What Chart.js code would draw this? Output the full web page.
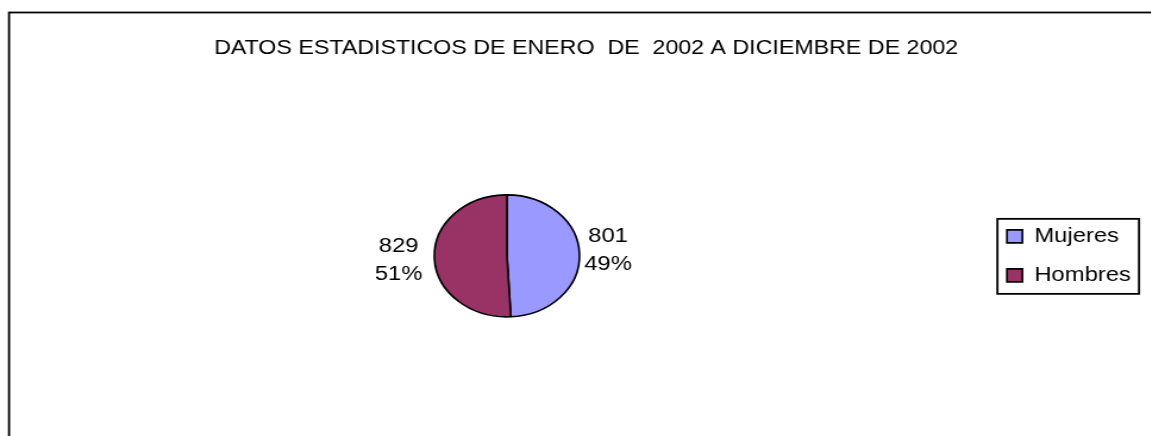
<!DOCTYPE html>
<html>
<head>
<meta charset="utf-8">
<script src="https://cdn.jsdelivr.net/npm/chart.js@4/dist/chart.umd.min.js"></script>
<style>
  html, body { margin: 0; padding: 0; background: #fff; overflow: hidden; width: 1151px; height: 436px; }
  #wrap { width: 979px; height: 451px; transform: scaleX(1.19); transform-origin: 0 0; }
  canvas { display: block; }
</style>
</head>
<body>
<div id="wrap"><canvas id="c" width="979" height="451"></canvas></div>
<script>
// ---- data ----
const categories = ['Mujeres', 'Hombres'];
const values = [801, 829];
const titleText = 'DATOS ESTADISTICOS DE ENERO  DE  2002 A DICIEMBRE DE 2002';

const FONT = '"Liberation Sans", Arial, sans-serif';
Chart.defaults.font.family = FONT;
Chart.defaults.color = '#000';

// outer frame of the chart (left and top visible; right/bottom beyond the crop)
const frame = {
  id: 'frame',
  beforeDraw(chart) {
    const ctx = chart.ctx;
    ctx.save();
    ctx.fillStyle = '#fff';
    ctx.fillRect(0, 0, chart.width, chart.height);
    ctx.strokeStyle = '#000';
    ctx.lineWidth = 1.8;
    ctx.strokeRect(7.6, 12.5, chart.width + 20, chart.height + 20);
    ctx.restore();
  }
};

// border around the legend
const legendFrame = {
  id: 'legendFrame',
  afterDraw(chart) {
    const hb = chart.legend && chart.legend.legendHitBoxes;
    if (!hb || !hb.length) return;
    const ctx = chart.ctx;
    const first = hb[0], last = hb[hb.length - 1];
    const mid = (first.top + first.height / 2 + last.top + last.height / 2) / 2;
    const left = first.left - 8;
    const right = first.left + 111;
    ctx.save();
    ctx.strokeStyle = '#000';
    ctx.lineWidth = 1.8;
    ctx.strokeRect(left, mid - 37, right - left, 75);
    ctx.restore();
  }
};

// value + percent labels outside the slices
const pieLabels = {
  id: 'pieLabels',
  afterDatasetsDraw(chart) {
    const ctx = chart.ctx;
    const meta = chart.getDatasetMeta(0);
    const total = values.reduce((a, b) => a + b, 0);
    ctx.save();
    ctx.font = '20px ' + FONT;
    ctx.fillStyle = '#000';
    ctx.textBaseline = 'middle';
    ctx.textAlign = 'center';
    meta.data.forEach((arc, i) => {
      const p = arc.getProps(['x', 'y', 'startAngle', 'endAngle', 'outerRadius'], true);
      const mid = (p.startAngle + p.endAngle) / 2;
      const l1 = String(values[i]);
      const l2 = Math.round(values[i] / total * 100) + '%';
      const w = Math.max(ctx.measureText(l1).width, ctx.measureText(l2).width);
      const c = Math.cos(mid), s = Math.sin(mid);
      const right = c >= 0;
      const rr = p.outerRadius + (right ? 4 : 10);
      const px = p.x + c * rr + (right ? 1 : -1) * w / 2;
      const py = p.y + s * rr + (right ? -4 : 3);
      ctx.fillText(l1, px, py - 14);
      ctx.fillText(l2, px, py + 14);
    });
    ctx.restore();
  }
};

new Chart(document.getElementById('c'), {
  type: 'pie',
  data: {
    labels: categories,
    datasets: [{
      data: values,
      backgroundColor: ['#9999FF', '#993366'],
      borderColor: '#000',
      borderWidth: 1.6
    }]
  },
  options: {
    responsive: false,
    animation: false,
    devicePixelRatio: 1,
    radius: 61,
    layout: { padding: { left: 24.8, right: 18.7, top: 0, bottom: 0 } },
    plugins: {
      title: {
        display: true,
        text: titleText,
        color: '#000',
        font: { size: 19.5, weight: 'normal', family: FONT, lineHeight: 1.2 },
        padding: { top: 37.3, bottom: 0 }
      },
      legend: {
        display: true,
        position: 'right',
        fullSize: false,
        labels: {
          color: '#000',
          font: { size: 20, family: FONT },
          boxWidth: 13,
          boxHeight: 13,
          padding: 19
        }
      },
      tooltip: { enabled: false }
    }
  },
  plugins: [frame, pieLabels, legendFrame]
});
</script>
</body>
</html>
